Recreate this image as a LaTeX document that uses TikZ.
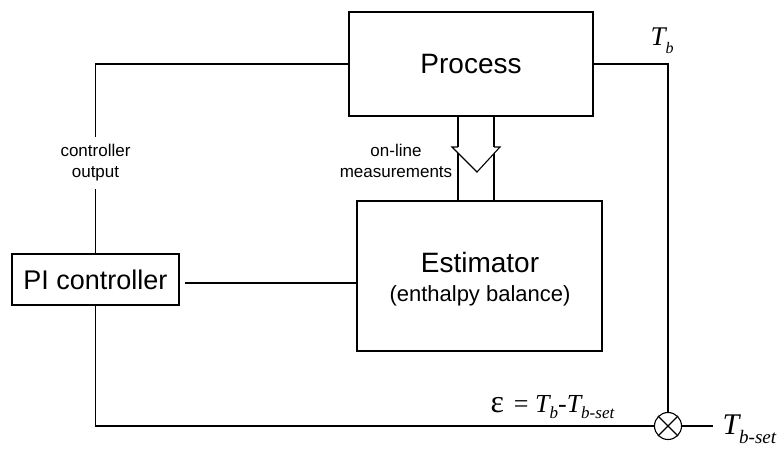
\documentclass[tikz,border=0pt]{standalone}
\usepackage{fontspec}
\setmainfont{Liberation Sans}
\newfontfamily\tms{Liberation Serif}
\begin{document}
\begin{tikzpicture}[x=1pt,y=-1pt,line width=1.1pt,
  box/.style={draw,rectangle,inner sep=0pt},
  lbl/.style={font=\fontsize{17}{21}\selectfont,align=center,inner sep=0pt},
  txt/.style={inner sep=0pt}]
\useasboundingbox (0,0) rectangle (779,448);
% blocks
\node[box,minimum width=244pt,minimum height=104pt,font=\fontsize{28}{30}\selectfont] (proc) at (471,64) {Process};
\node[box,minimum width=245pt,minimum height=150pt] (est) at (479.5,276) {};
\node[txt,anchor=base,font=\fontsize{28}{30}\selectfont] (esttitle) at (480,272) {Estimator};
\node[txt,anchor=base,font=\fontsize{22}{24}\selectfont] (estsub) at (480,301) {(enthalpy balance)};
\node[box,minimum width=167pt,minimum height=51pt,font=\fontsize{27}{29}\selectfont] (pi) at (95.5,279.5) {PI controller};
\node[draw,circle,minimum size=27pt,inner sep=0pt] (sum) at (668,426) {};
\draw (sum.north west) -- (sum.south east) (sum.north east) -- (sum.south west);
% block arrow
\draw (458,116) rectangle (494,201);
\fill[white] (452,147) -- (500,147) -- (477,172) -- cycle;
\draw (458,147) -- (452,147) -- (477,172) -- (500,147) -- (494,147);
% connectors
\draw (proc.west) -| (pi.north);
\draw (proc.east) -| (sum.north);
\draw (pi.south) |- (sum.west);
\coordinate (pie) at (185,283);
\draw (pie) -- (pie -| est.west);
\coordinate (setend) at (713,426);
\draw (sum.east) -- (setend);
% labels
\node[lbl,fill=white,inner ysep=8pt,inner xsep=2pt] (co) at (95.5,163) {controller\\output};
\node[lbl] (olm) at (396,161.3) {on-line\\measurements};
\node[txt,anchor=base west,font=\tms\itshape\fontsize{27}{27}\selectfont] (tb) at (650,45) {T\raisebox{-0.3em}{\fontsize{16}{16}\selectfont b}};
\node[txt,anchor=base west,font=\tms\fontsize{26}{26}\selectfont] (err) at (490,412) {{\fontsize{32}{32}\selectfont ε}\hspace{10pt}= \textit{T\raisebox{-0.25em}{\fontsize{17}{17}\selectfont b}-T\raisebox{-0.25em}{\fontsize{17}{17}\selectfont b-set}}};
\node[txt,anchor=base west,font=\tms\itshape\fontsize{30}{30}\selectfont] (tset) at (722,434) {T\raisebox{-0.3em}{\fontsize{19}{19}\selectfont b-set}};
\end{tikzpicture}
\end{document}
